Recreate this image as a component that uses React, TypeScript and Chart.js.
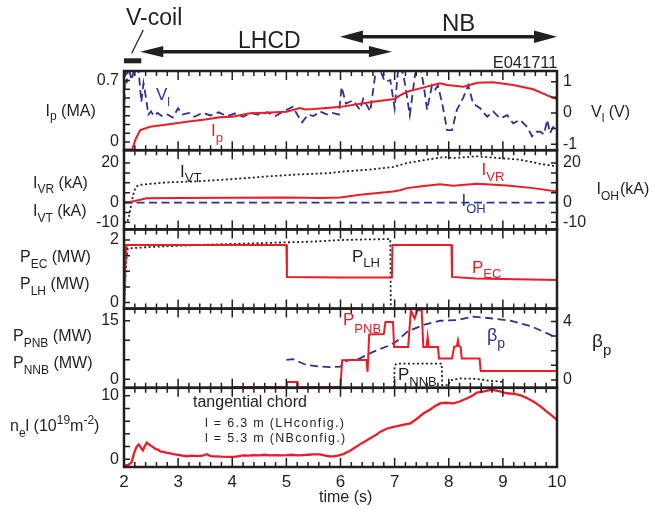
import React, { useEffect, useRef } from 'react';
import { Chart, registerables } from 'chart.js';

Chart.register(...registerables);

const W = 653;
const H = 510;
const FONT = "'Liberation Sans', Arial, Helvetica, sans-serif";
const RED = '#ED1C24';
const BLUE = '#2E3192';
const BLACK = '#231F20';

// ---------- time axis ----------
const TIME_MIN = 2;
const TIME_MAX = 10;
const timeTicks = [2, 3, 4, 5, 6, 7, 8, 9, 10];

// ---------- heating / coil windows (s) ----------
const vcoilWindow = [2.0, 2.32];
const lhcdWindow = [2.3, 6.95];
const nbWindow = [5.99, 10.0];

// ---------- panel 1 : Ip (MA), Vl (V) ----------
const ipRange = [-0.093, 0.808];
const ipTicks = [0, 0.7];
const ipMarks = [0, 0.1, 0.2, 0.3, 0.4, 0.5, 0.6, 0.7];
const vlRange = [-1.19, 1.34];
const vlTicks = [-1, 0, 1];
const vlMarks = [-1, -0.5, 0, 0.5, 1];

const ipT = [2.0, 2.15, 2.22, 2.3, 2.48, 3.0, 3.16, 3.5, 3.77, 4.0, 4.33, 4.5, 5.0, 5.25, 5.35, 5.5, 5.8, 6.0, 6.6, 7.0, 7.1, 7.23, 7.47, 7.84, 7.97, 8.27, 8.53, 8.82, 9.19, 9.56, 9.94, 10.0];
const ipMA = [-0.085, -0.085, 0.04, 0.137, 0.174, 0.216, 0.231, 0.256, 0.281, 0.288, 0.326, 0.33, 0.345, 0.387, 0.37, 0.375, 0.39, 0.4, 0.458, 0.49, 0.53, 0.572, 0.61, 0.668, 0.648, 0.629, 0.675, 0.68, 0.648, 0.6, 0.5, 0.486];

const vlT = [2.0, 2.02, 2.05, 2.08, 2.14, 2.2, 2.27, 2.32, 2.36, 2.4, 2.45, 2.5, 2.55, 2.62, 2.7, 2.8, 2.9, 3.0, 3.08, 3.2, 3.3, 3.45, 3.6, 3.75, 3.9, 4.05, 4.2, 4.35, 4.5, 4.65, 4.8, 4.95, 5.12, 5.2, 5.29, 5.4, 5.5, 5.62, 5.75, 5.85, 5.97, 6.02, 6.1, 6.23, 6.36, 6.42, 6.55, 6.64, 6.7, 6.82, 6.92, 7.0, 7.07, 7.16, 7.23, 7.28, 7.38, 7.47, 7.53, 7.6, 7.69, 7.75, 7.8, 7.88, 7.97, 8.06, 8.15, 8.27, 8.36, 8.45, 8.58, 8.65, 8.71, 8.82, 8.95, 9.08, 9.19, 9.32, 9.45, 9.54, 9.62, 9.69, 9.76, 9.82, 9.87, 9.93, 10.0];
const vlV = [-0.45, 1.5, 0.95, 1.5, 1.05, 1.5, 1.35, 0.35, 0.95, 0.55, -0.05, 0.05, -0.1, 0.0, -0.1, -0.05, -0.15, 0.15, -0.05, 0.0, -0.12, 0.0, -0.08, 0.02, -0.1, -0.02, -0.12, 0.0, -0.06, 0.02, -0.1, 0.05, 0.2, -0.05, -0.3, -0.05, -0.1, 0.05, -0.05, 0.0, -0.05, 0.83, 0.3, 0.4, 0.1, 0.45, 0.05, 1.2, 1.5, 1.0, 1.05, 0.15, 1.5, 1.25, 0.5, -0.07, 1.25, 1.5, 0.95, 0.1, 0.88, 0.75, 0.88, 0.3, -0.55, -0.55, 0.1, 0.5, 0.88, 0.3, 0.15, 0.0, -0.12, 0.05, -0.17, -0.07, -0.33, -0.22, -0.45, -0.75, -0.6, -0.6, -0.68, -0.22, -0.65, -0.45, -0.6];

// ---------- panel 2 : IVR, IVT (kA), IOH (kA) ----------
const ivRange = [-13.6, 26.5];
const ivTicks = [-10, 0, 20];
const ivMarks = [-10, -5, 0, 5, 10, 15, 20];

const ivtT = [2.0, 2.06, 2.1, 2.14, 2.18, 2.22, 2.3, 2.79, 3.4, 4.02, 4.64, 5.2, 5.8, 6.0, 6.5, 6.97, 7.23, 7.6, 7.9, 8.08, 8.52, 8.95, 9.32, 9.69, 9.93, 10.0];
const ivtKA = [-10.3, -10.0, -6, 0, 5, 8, 9.0, 10.2, 10.8, 11.9, 13.2, 14.2, 14.9, 15.6, 16.6, 18.0, 20.0, 21.7, 23.0, 22.5, 23.4, 22.5, 21.7, 19.6, 18.6, 18.3];

const ivrT = [2.0, 2.1, 2.2, 2.3, 2.42, 3.0, 4.0, 5.0, 5.62, 6.0, 6.36, 6.97, 7.1, 7.23, 7.5, 7.84, 8.08, 8.52, 9.08, 9.56, 10.0];
const ivrKA = [0, 0.3, 0.8, 1.4, 2.2, 2.3, 2.4, 2.6, 2.3, 2.5, 3.9, 5.6, 6.2, 7.3, 8.3, 9.3, 8.5, 9.5, 8.6, 7.3, 5.6];

const iohT = [2.0, 4.0, 6.0, 8.0, 10.0];
const iohKA = [0, 0, 0, 0, 0];

// ---------- panel 3 : PEC, PLH (MW) ----------
const pRange = [-0.195, 2.34];
const pTicks = [0, 2];
const pMarks = [0, 0.5, 1, 1.5, 2];

const pecT = [2.0, 2.04, 5.0, 5.01, 6.0, 6.95, 6.96, 8.05, 8.06, 8.5, 9.0, 10.0];
const pecMW = [-0.15, 1.84, 1.84, 0.82, 0.8, 0.8, 1.84, 1.84, 0.82, 0.77, 0.75, 0.72];

const plhT = [2.0, 2.04, 2.07, 2.5, 3.5, 4.5, 5.5, 6.0, 6.5, 6.92, 6.93];
const plhMW = [-0.19, 1.3, 1.73, 1.78, 1.85, 1.9, 1.95, 2.0, 2.02, 2.03, -0.19];

// ---------- panel 4 : PPNB, PNNB (MW), beta_p ----------
const nbRange = [-2.21, 18.14];
const nbTicks = [0, 15];
const nbMarks = [0, 5, 10, 15];
const betaRange = [-0.533, 4.88];
const betaTicks = [0, 4];
const betaMarks = [0, 1, 2, 3, 4];

const ppnbT = [4.0, 5.0, 5.01, 5.2, 5.21, 6.0, 6.03, 6.48, 6.5, 6.53, 6.8, 6.83, 6.97, 6.99, 7.25, 7.3, 7.37, 7.42, 7.5, 7.53, 7.59, 7.61, 7.63, 7.8, 7.82, 8.06, 8.1, 8.15, 8.17, 8.19, 8.22, 8.24, 8.57, 8.59, 10.0];
const ppnbMW = [-2.0, -2.0, -0.7, -0.7, -2.0, -2.0, 4.9, 5.0, 1.9, 11.5, 11.6, 14.7, 14.7, 8.3, 8.3, 17.7, 15.6, 17.7, 17.7, 8.3, 8.3, 10.9, 8.3, 8.3, 5.3, 5.3, 8.3, 8.5, 10.0, 8.5, 8.3, 5.3, 5.3, 2.1, 2.1];

const pnnbT = [6.99, 7.0, 7.05, 7.87, 7.88, 8.0, 8.02, 8.2, 8.5, 8.7, 9.0];
const pnnbMW = [-2.1, 3.6, 4.0, 4.0, -1.5, -1.5, -0.3, 0.2, 0.1, -0.3, -0.7];

const betaT = [5.0, 5.13, 5.37, 5.62, 5.8, 6.0, 6.12, 6.36, 6.61, 6.92, 7.04, 7.23, 7.53, 7.84, 8.15, 8.46, 8.77, 9.14, 9.51, 9.75, 9.9, 10.0];
const betaP = [1.37, 1.42, 1.02, 0.92, 0.88, 0.92, 1.32, 1.48, 1.94, 2.39, 2.65, 3.3, 3.76, 4.05, 4.1, 4.33, 4.22, 4.05, 3.69, 3.3, 3.05, 2.9];

// ---------- panel 5 : ne l (1e19 m^-2) ----------
const nelRange = [-1.23, 11.26];
const nelTicks = [0, 10];
const nelMarks = [0, 2, 4, 6, 8, 10];

const nelT = [2.0, 2.08, 2.14, 2.18, 2.23, 2.27, 2.3, 2.33, 2.35, 2.38, 2.42, 2.45, 2.5, 2.54, 2.58, 2.63, 2.68, 2.73, 2.8, 2.86, 2.91, 3.0, 3.08, 3.16, 3.25, 3.35, 3.45, 3.53, 3.6, 3.7, 3.8, 3.9, 4.02, 4.1, 4.2, 4.3, 4.39, 4.5, 4.6, 4.7, 4.8, 4.9, 5.0, 5.1, 5.2, 5.3, 5.4, 5.5, 5.62, 5.72, 5.8, 5.87, 5.95, 6.05, 6.15, 6.24, 6.35, 6.45, 6.55, 6.65, 6.73, 6.85, 6.98, 7.05, 7.15, 7.29, 7.4, 7.53, 7.65, 7.75, 7.84, 7.95, 8.09, 8.2, 8.34, 8.45, 8.52, 8.65, 8.75, 8.83, 8.95, 9.07, 9.2, 9.32, 9.45, 9.57, 9.7, 9.81, 9.9, 10.0];
const nelV = [-1.0, -0.9, -0.5, 0.8, 1.9, 2.3, 2.0, 1.6, 1.4, 2.0, 2.6, 2.4, 2.1, 1.9, 1.6, 1.5, 1.2, 1.15, 1.0, 0.9, 0.8, 0.7, 0.55, 0.47, 0.55, 0.5, 0.55, 0.8, 0.5, 0.45, 0.4, 0.38, 0.37, 0.45, 0.6, 0.55, 0.63, 0.6, 0.7, 0.6, 0.65, 0.6, 0.63, 0.7, 0.6, 0.65, 0.7, 0.75, 0.75, 0.55, 0.45, 0.45, 0.55, 0.8, 1.2, 1.7, 2.3, 2.8, 3.3, 3.8, 4.3, 4.8, 5.1, 5.2, 5.4, 5.65, 6.3, 7.2, 7.8, 8.4, 8.8, 8.9, 8.8, 9.1, 9.6, 10.1, 10.5, 10.7, 10.9, 10.9, 10.7, 10.4, 10.3, 10.1, 9.6, 9.05, 8.3, 7.5, 6.9, 6.2];

// ---------- panel table (axis ids + tick marks) ----------
const PANELS = [
  { left: 'yA', right: 'rA', lm: ipMarks, rm: vlMarks },
  { left: 'yB', right: 'rB', lm: ivMarks, rm: ivMarks },
  { left: 'yC', right: 'rC', lm: pMarks, rm: [] as number[] },
  { left: 'yD', right: 'rD', lm: nbMarks, rm: betaMarks },
  { left: 'yE', right: 'rE', lm: nelMarks, rm: [] as number[] },
];

const LEFT_W = 124;
const RIGHT_W = 96;

const tickFont = { family: FONT, size: 16 };

function yLeft(range: number[], labels: number[], weight: number) {
  return {
    type: 'linear',
    position: 'left',
    stack: 'L',
    stackWeight: 1,
    weight,
    min: range[0],
    max: range[1],
    grid: { display: false, drawTicks: false },
    border: { display: false },
    afterBuildTicks: (s: any) => {
      s.ticks = labels.map((v) => ({ value: v }));
    },
    afterFit: (s: any) => {
      s.width = LEFT_W;
    },
    ticks: { autoSkip: false, padding: 5, color: BLACK, font: tickFont, callback: (v: any) => String(v) },
  };
}

function yRight(range: number[], labels: number[], weight: number) {
  return {
    type: 'linear',
    position: 'right',
    stack: 'R',
    stackWeight: 1,
    weight,
    min: range[0],
    max: range[1],
    grid: { display: false, drawTicks: false },
    border: { display: false },
    afterBuildTicks: (s: any) => {
      s.ticks = labels.map((v) => ({ value: v }));
    },
    afterFit: (s: any) => {
      s.width = RIGHT_W;
    },
    ticks: {
      display: labels.length > 0,
      autoSkip: false,
      padding: 6,
      color: BLACK,
      font: tickFont,
      callback: (v: any) => String(v),
    },
  };
}

function series(T: number[], V: number[], axis: string, color: string, dash: number[], width = 2) {
  return {
    data: T.map((t, i) => ({ x: t, y: V[i] })),
    xAxisID: 'x',
    yAxisID: axis,
    borderColor: color,
    borderWidth: width,
    borderDash: dash,
    pointRadius: 0,
    fill: false,
    tension: 0,
  };
}

const DASH = [8, 4.5];
const DOT = [2, 2.5];

const panelPlugin = {
  id: 'panelPlugin',
  beforeDatasetDraw(chart: any, args: any) {
    const ys = args.meta.yScale;
    const a = chart.chartArea;
    const ctx = chart.ctx;
    ctx.save();
    ctx.beginPath();
    ctx.rect(a.left, ys.top, a.right - a.left, ys.bottom - ys.top);
    ctx.clip();
  },
  afterDatasetDraw(chart: any) {
    chart.ctx.restore();
  },
  afterDraw(chart: any) {
    const ctx = chart.ctx;
    const a = chart.chartArea;
    const xs = chart.scales.x;
    ctx.save();
    ctx.strokeStyle = BLACK;
    ctx.fillStyle = BLACK;
    ctx.setLineDash([]);
    PANELS.forEach((p) => {
      const ls = chart.scales[p.left];
      const rs = chart.scales[p.right];
      const top = ls.top;
      const bot = ls.bottom;
      ctx.lineWidth = 1.5;
      ctx.beginPath();
      const n = Math.round((TIME_MAX - TIME_MIN) / 0.2);
      for (let i = 0; i <= n; i++) {
        const px = xs.getPixelForValue(TIME_MIN + i * 0.2);
        const len = i % 5 === 0 ? 9 : 5;
        ctx.moveTo(px, bot);
        ctx.lineTo(px, bot - len);
        ctx.moveTo(px, top);
        ctx.lineTo(px, top + len);
      }
      p.lm.forEach((v) => {
        const py = ls.getPixelForValue(v);
        ctx.moveTo(a.left, py);
        ctx.lineTo(a.left + 6, py);
      });
      p.rm.forEach((v) => {
        const py = rs.getPixelForValue(v);
        ctx.moveTo(a.right, py);
        ctx.lineTo(a.right - 6, py);
      });
      ctx.stroke();
      ctx.lineWidth = 2.5;
      ctx.strokeRect(a.left, top, a.right - a.left, bot - top);
    });

    // arrows above the plot
    const arrow = (t1: number, t2: number, y: number, hl: number, hw: number, lw: number) => {
      const x1 = xs.getPixelForValue(t1);
      const x2 = xs.getPixelForValue(t2);
      ctx.lineWidth = lw;
      ctx.beginPath();
      ctx.moveTo(x1 + hl * 0.7, y);
      ctx.lineTo(x2 - hl * 0.7, y);
      ctx.stroke();
      ctx.beginPath();
      ctx.moveTo(x1, y);
      ctx.lineTo(x1 + hl, y - hw);
      ctx.lineTo(x1 + hl, y + hw);
      ctx.closePath();
      ctx.fill();
      ctx.beginPath();
      ctx.moveTo(x2, y);
      ctx.lineTo(x2 - hl, y - hw);
      ctx.lineTo(x2 - hl, y + hw);
      ctx.closePath();
      ctx.fill();
    };
    arrow(lhcdWindow[0], lhcdWindow[1], 51.7, 23, 5.6, 3.5);
    arrow(nbWindow[0], nbWindow[1], 36.7, 23, 6.2, 3.5);

    // V-coil bar and pointer
    const vx1 = xs.getPixelForValue(vcoilWindow[0]);
    const vx2 = xs.getPixelForValue(vcoilWindow[1]);
    ctx.fillRect(vx1, 58.3, vx2 - vx1, 5);
    ctx.lineWidth = 1.3;
    ctx.beginPath();
    ctx.moveTo(143.3, 30);
    ctx.lineTo(131.7, 53.3);
    ctx.stroke();
    ctx.restore();
  },
};

type LblProps = { x: number; y: number; s?: number; c?: string; right?: boolean; ls?: number; children: React.ReactNode };

function Lbl({ x, y, s = 16, c = BLACK, right, ls, children }: LblProps) {
  const pos: any = right ? { right: W - x } : { left: x };
  return (
    <div
      style={{
        position: 'absolute',
        top: y - 0.8465 * s,
        ...pos,
        fontSize: s,
        lineHeight: `${s}px`,
        color: c,
        whiteSpace: 'nowrap',
        fontFamily: FONT,
        letterSpacing: ls,
      }}
    >
      {children}
    </div>
  );
}

function Sub({ s, dy, children }: { s: number; dy: number; children: React.ReactNode }) {
  return <span style={{ fontSize: s, position: 'relative', top: dy, lineHeight: 1 }}>{children}</span>;
}

export default function App() {
  const ref = useRef<HTMLCanvasElement | null>(null);

  useEffect(() => {
    if (!ref.current) return;
    const chart = new Chart(ref.current, {
      type: 'line',
      data: {
        datasets: [
          series(ipT, ipMA, 'yA', RED, []),
          series(vlT, vlV, 'rA', BLUE, DASH, 1.8),
          series(ivrT, ivrKA, 'yB', RED, []),
          series(ivtT, ivtKA, 'yB', BLACK, DOT, 1.8),
          series(iohT, iohKA, 'rB', BLUE, DASH, 1.8),
          series(pecT, pecMW, 'yC', RED, []),
          series(plhT, plhMW, 'yC', BLACK, DOT, 1.8),
          series(ppnbT, ppnbMW, 'yD', RED, []),
          series(pnnbT, pnnbMW, 'yD', BLACK, DOT, 1.8),
          series(betaT, betaP, 'rD', BLUE, DASH, 1.8),
          series(nelT, nelV, 'yE', RED, [], 2.3),
        ] as any,
      },
      options: {
        responsive: false,
        animation: false,
        devicePixelRatio: 1,
        events: [],
        layout: { padding: { top: 71, left: 0, right: 0, bottom: 0 } },
        plugins: { legend: { display: false }, tooltip: { enabled: false } },
        scales: {
          x: {
            type: 'linear',
            position: 'bottom',
            min: TIME_MIN,
            max: TIME_MAX,
            grid: { display: false, drawTicks: false },
            border: { display: false },
            afterBuildTicks: (s: any) => {
              s.ticks = timeTicks.map((v) => ({ value: v }));
            },
            afterFit: (s: any) => {
              s.height = 43;
            },
            ticks: { autoSkip: false, maxRotation: 0, padding: 5, color: BLACK, font: { family: FONT, size: 17 } },
          },
          yA: yLeft(ipRange, ipTicks, 5),
          yB: yLeft(ivRange, ivTicks, 4),
          yC: yLeft(pRange, pTicks, 3),
          yD: yLeft(nbRange, nbTicks, 2),
          yE: yLeft(nelRange, nelTicks, 1),
          rA: yRight(vlRange, vlTicks, 1),
          rB: yRight(ivRange, ivTicks, 2),
          rC: yRight([0, 1], [], 3),
          rD: yRight(betaRange, betaTicks, 4),
          rE: yRight([0, 1], [], 5),
        } as any,
      },
      plugins: [panelPlugin as any],
    });
    return () => chart.destroy();
  }, []);

  return (
    <div style={{ position: 'absolute', left: 0, top: 0, width: W, height: H, background: '#fff', overflow: 'hidden' }}>
      <canvas ref={ref} width={W} height={H} style={{ display: 'block', width: W, height: H }} />
      <div style={{ position: 'absolute', left: 0, top: 0, width: W, height: H, pointerEvents: 'none' }}>
        {/* top annotations */}
        <Lbl x={126} y={25} s={23}>V-coil</Lbl>
        <Lbl x={238} y={48} s={23}>LHCD</Lbl>
        <Lbl x={442} y={31.5} s={24}>NB</Lbl>
        <Lbl x={557.5} y={68} s={16.5} right>E041711</Lbl>

        {/* panel 1 */}
        <Lbl x={45.5} y={116.5}>I<Sub s={12} dy={4}>p</Sub> (MA)</Lbl>
        <Lbl x={156} y={100} s={17} c={BLUE}>V<Sub s={12} dy={6}>l</Sub></Lbl>
        <Lbl x={211} y={136.5} s={17} c={RED}>I<Sub s={13} dy={6}>p</Sub></Lbl>
        <Lbl x={591} y={118}>V<Sub s={12} dy={5}>l</Sub> (V)</Lbl>

        {/* panel 2 */}
        <Lbl x={33} y={188.5}>I<Sub s={12} dy={5.5}>VR</Sub> (kA)</Lbl>
        <Lbl x={33} y={217}>I<Sub s={12} dy={5.5}>VT</Sub> (kA)</Lbl>
        <Lbl x={180} y={177} s={17}>I<Sub s={13} dy={5}>VT</Sub></Lbl>
        <Lbl x={481.5} y={175.5} s={17} c={RED}>I<Sub s={13} dy={6}>VR</Sub></Lbl>
        <Lbl x={461.5} y={206.5} s={17} c={BLUE}>I<Sub s={13} dy={7}>OH</Sub></Lbl>
        <Lbl x={596.5} y={195}>I<Sub s={12} dy={6}>OH</Sub><span style={{ marginLeft: 1 }}>(kA)</span></Lbl>

        {/* panel 3 */}
        <Lbl x={20} y={263}>P<Sub s={12} dy={6}>EC</Sub> (MW)</Lbl>
        <Lbl x={20} y={290}>P<Sub s={12} dy={6}>LH</Sub> (MW)</Lbl>
        <Lbl x={352} y={262} s={17}>P<Sub s={13} dy={5}>LH</Sub></Lbl>
        <Lbl x={472} y={273} s={17} c={RED}>P<Sub s={13} dy={5}>EC</Sub></Lbl>

        {/* panel 4 */}
        <Lbl x={13} y={341.5}>P<Sub s={12} dy={6.5}>PNB</Sub> (MW)</Lbl>
        <Lbl x={13} y={368.5}>P<Sub s={12} dy={6.5}>NNB</Sub> (MW)</Lbl>
        <Lbl x={343} y={325} s={17} c={RED}>P<Sub s={13} dy={8}>PNB</Sub></Lbl>
        <Lbl x={487} y={341} s={18} c={BLUE}>β<Sub s={14} dy={7}>p</Sub></Lbl>
        <Lbl x={398} y={380} s={17}>P<Sub s={13} dy={6}>NNB</Sub></Lbl>
        <Lbl x={592} y={347.5} s={19}>β<Sub s={15} dy={8}>p</Sub></Lbl>

        {/* panel 5 */}
        <Lbl x={10} y={432}>
          n<Sub s={12} dy={6}>e</Sub>l (10<Sub s={12} dy={-7}>19</Sub>m<Sub s={12} dy={-7}>-2</Sub>)
        </Lbl>
        <Lbl x={193} y={408}>tangential chord</Lbl>
        <Lbl x={205} y={428} s={12.5} ls={1.3}>l = 6.3 m (LHconfig.)</Lbl>
        <Lbl x={205} y={442.5} s={12.5} ls={1.3}>l = 5.3 m (NBconfig.)</Lbl>

        {/* x axis title */}
        <Lbl x={319} y={503}>time (s)</Lbl>
      </div>
    </div>
  );
}
